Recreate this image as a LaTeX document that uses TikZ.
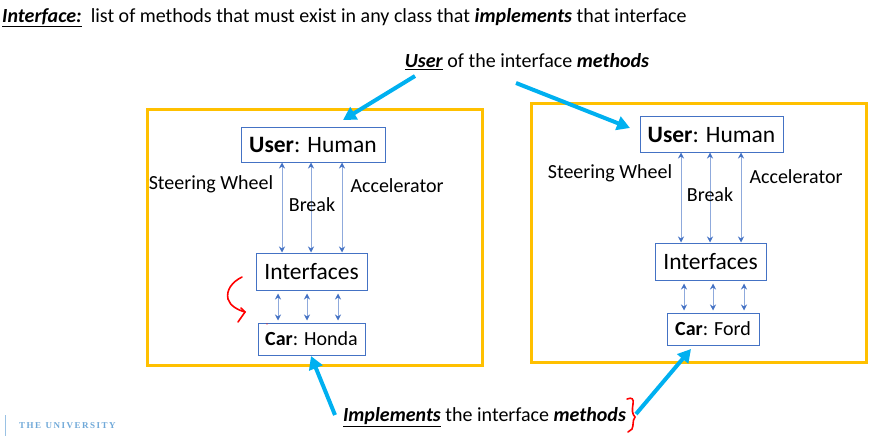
\documentclass[tikz,border=0pt]{standalone}
\usepackage{fontspec}
\setmainfont{Carlito}
\usetikzlibrary{arrows.meta, positioning}
\definecolor{frameorange}{HTML}{FFC000}
\definecolor{boxblue}{HTML}{4472C4}
\definecolor{linkblue}{HTML}{8FAADC}
\definecolor{pointcyan}{HTML}{00B0F0}
\definecolor{logoblue}{HTML}{6FA8D8}
\newcommand{\txt}[1]{\fontsize{#1}{#1}\selectfont}
\newcommand{\emp}[1]{\underline{\textbf{\textit{#1}}}}
\tikzset{
frame/.style={draw=frameorange, line width=3pt, minimum width=335pt, minimum height=256pt, inner sep=0pt}, % the two orange rectangles
classbox/.style={draw=boxblue, line width=1pt, fill=white, inner sep=0pt, text=black},
big/.style={font=\txt{23.5}, text height=18pt, text depth=2pt},
small/.style={font=\txt{20}},
biarrow/.style={{Stealth[length=6pt,width=6pt,color=boxblue]}-{Stealth[length=6pt,width=6pt,color=boxblue]}, draw=linkblue, line width=0.9pt},
pointer/.style={-{Triangle[length=13pt,width=14pt]}, draw=pointcyan, line width=4pt},
scribble/.style={draw=red, line width=1.6pt, line cap=round},
}
\begin{document}
\begin{tikzpicture}[x=1pt, y=-1pt]
    \useasboundingbox (0,0) rectangle (872,436);
    \clip (0,0) rectangle (872,436);

    % Title
    \node[font=\txt{20}, anchor=west, inner sep=0pt] (title) at (2,17.5) {\emp{Interface:}\ \ list of methods that must exist in any class that \textbf{\textit{implements}} that interface};

    % Left system
    \node[frame] (frameA) at (314.5,237) {};
    \node[classbox, big, minimum width=144pt, minimum height=35pt] (userA) at (313,144.5) {\textbf{User}: Human};
    \node[classbox, big, minimum width=111pt, minimum height=37pt] (ifaceA) at (311.5,271.5) {Interfaces};
    \node[classbox, small, minimum width=107pt, minimum height=32pt] (carA) at (311.5,339) {\textbf{Car}: Honda};
    \foreach \dx in {-31,-2,29}
        \draw[biarrow] ([xshift=\dx pt]userA.south) -- ([xshift=\dx pt]userA.south |- ifaceA.north);
    \foreach \dx in {-33.5,-4.5,26.5}
        \draw[biarrow] ([xshift=\dx pt, yshift=-3pt]ifaceA.south) -- ([xshift=\dx pt, yshift=2pt]ifaceA.south |- carA.north);
    \node[small] (wheelA) at (211,184.5) {Steering Wheel};
    \node[small] (breakA) at (312,205) {Break};
    \node[small] (accelA) at (397,186) {Accelerator};

    % Right system
    \node[frame, minimum height=259pt] (frameB) at (698.5,232.5) {};
    \node[classbox, big, minimum width=143pt, minimum height=36pt] (userB) at (711.5,134) {\textbf{User}: Human};
    \node[classbox, big, minimum width=111pt, minimum height=37pt] (ifaceB) at (710.5,261.5) {Interfaces};
    \node[classbox, small, minimum width=92pt, minimum height=32pt] (carB) at (713,329) {\textbf{Car}: Ford};
    \foreach \dx in {-30.5,-1.5,29.5}
        \draw[biarrow] ([xshift=\dx pt]userB.south) -- ([xshift=\dx pt]userB.south |- ifaceB.north);
    \foreach \dx in {-26.5,2.5,33.5}
        \draw[biarrow] ([xshift=\dx pt, yshift=-3pt]ifaceB.south) -- ([xshift=\dx pt, yshift=2pt]ifaceB.south |- carB.north);
    \node[small] (wheelB) at (610,173.5) {Steering Wheel};
    \node[small] (breakB) at (710,195) {Break};
    \node[small] (accelB) at (796,176.5) {Accelerator};

    % Pointers
    \node[font=\txt{20}] (userlabel) at (527,61.5) {\emp{User} of the interface \textbf{\textit{methods}}};
    \node[font=\txt{20}] (impllabel) at (484.5,417) {\emp{Implements} the interface \textbf{\textit{methods}}};
    \coordinate (userfromA) at (415,76);
    \coordinate (usertoA) at (343,120);
    \coordinate (userfromB) at (516,83);
    \coordinate (usertoB) at (630,128);
    \coordinate (implfromA) at (335,415);
    \coordinate (impltoA) at (311,356);
    \coordinate (implfromB) at (636,414);
    \coordinate (impltoB) at (691,349);
    \draw[pointer] (userfromA) -- (usertoA);
    \draw[pointer] (userfromB) -- (usertoB);
    \draw[pointer] (implfromA) -- (impltoA);
    \draw[pointer] (implfromB) -- (impltoB);

    % Red ink
    \draw[scribble] (242,277) .. controls (232,282) and (226,290) .. (228,299) .. controls (230,306) and (238,310) .. (245,312);
    \draw[scribble] (241,308) -- (245,312) -- (238,322);
    \draw[scribble] (627,399) .. controls (632,397) and (634,399) .. (633,404) .. controls (632,410) and (632,414) .. (635,417) .. controls (632,421) and (634,425) .. (632,429) -- (628,432);
    \fill[red] (267,324) circle (0.6pt);

    % Footer
    \draw[draw=logoblue!70, line width=1pt] (5,415) -- (5,436);
    \node[font=\fontspec{Liberation Serif}\bfseries\txt{9}, text=logoblue, anchor=west, inner sep=0pt] (logo) at (19,426) {T\,H\,E\ \ U\,N\,I\,V\,E\,R\,S\,I\,T\,Y};
\end{tikzpicture}
\end{document}
